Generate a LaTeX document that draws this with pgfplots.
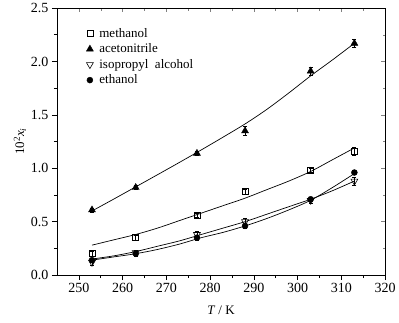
\documentclass[border=0pt]{standalone}
\usepackage{pgfplots}
\pgfplotsset{compat=1.18}
\usepackage{fontspec}
\setmainfont{Liberation Serif}
\begin{document}
\begin{tikzpicture}
\pgfplotsset{
  base/.style={
    width=328pt, height=267pt, scale only axis,
    xmin=245, xmax=320, ymin=0, ymax=2.5,
    xtick={250,260,...,320}, ytick={0,0.5,...,2.5},
    minor x tick num=1, minor y tick num=1,
    axis line style={line width=0.6pt},
  }
}
\begin{axis}[base, name=ax,
  xtick pos=bottom, ytick pos=left, tick align=outside,
  major tick length=5pt, minor tick length=3pt,
  tick style={line width=0.6pt, black},
  /pgf/number format/assume math mode=true,
  /pgf/number format/fixed, /pgf/number format/fixed zerofill,
  yticklabel style={/pgf/number format/precision=1},
  xticklabel style={/pgf/number format/precision=0},
  ticklabel style={font=\fontsize{14}{16}\selectfont},
  xlabel={\textit{T} / K}, ylabel={10\textsuperscript{2}\textit{x}\textsubscript{\textit{i}}},
  label style={font=\fontsize{13}{15}\selectfont},
  xlabel style={yshift=-6pt},
  ylabel style={yshift=-2pt},
  legend style={draw=none, fill=none, at={(0.08,0.94)}, anchor=north west,
    font=\fontsize{13}{15}\selectfont, row sep=1pt,
    /tikz/every odd column/.append style={column sep=4pt}},
  legend cell align=left,
  error bars/error bar style={line width=0.5pt},
  error bars/error mark options={rotate=90, mark size=2pt},
]
% data points
\addplot[only marks, mark=square, mark size=3pt, mark options={line width=0.6pt},
  error bars/.cd, y dir=both, y explicit] table[y error=e] {
x y e
253 0.20 0.02
263 0.35 0.02
277 0.56 0.02
288 0.78 0.02
303 0.98 0.02
313 1.16 0.04
};
\addlegendentry{methanol}
\addplot[only marks, mark=triangle*, mark size=4pt, fill=black,
  error bars/.cd, y dir=both, y explicit] table[y error=e] {
x y e
253 0.61 0.02
263 0.82 0.02
277 1.14 0.02
288 1.35 0.04
303 1.91 0.04
313 2.17 0.04
};
\addlegendentry{acetonitrile}
\addplot[only marks, mark=triangle, mark size=4pt, mark options={rotate=180, line width=0.6pt},
  error bars/.cd, y dir=both, y explicit] table[y error=e] {
x y e
253 0.12 0.03
263 0.21 0.02
277 0.38 0.03
288 0.50 0.03
303 0.70 0.03
313 0.88 0.04
};
\addlegendentry{isopropyl\ \ alcohol}
\addplot[only marks, mark=*, mark size=3pt, fill=black,
  error bars/.cd, y dir=both, y explicit] table[y error=e] {
x y e
253 0.14 0.02
263 0.20 0.02
277 0.35 0.02
288 0.46 0.02
303 0.71 0.02
313 0.96 0.02
};
\addlegendentry{ethanol}
% fitted curves
\addplot[black, line width=0.7pt, smooth, forget plot] coordinates {
(253,0.28) (258,0.33) (263,0.38) (268,0.44) (273,0.51) (278,0.58) (283,0.65)
(288,0.72) (293,0.80) (298,0.88) (303,0.97) (308,1.08) (313,1.19)};
\addplot[black, line width=0.7pt, smooth, forget plot] coordinates {
(253,0.600) (258,0.712) (263,0.826) (268,0.940) (273,1.055) (278,1.172) (283,1.292)
(288,1.415) (293,1.552) (298,1.705) (303,1.865) (308,2.015) (313,2.170)};
\addplot[black, line width=0.7pt, smooth, forget plot] coordinates {
(253,0.15) (258,0.18) (263,0.22) (268,0.27) (273,0.32) (278,0.38) (283,0.44)
(288,0.50) (293,0.57) (298,0.64) (303,0.71) (308,0.79) (313,0.88)};
\addplot[black, line width=0.7pt, smooth, forget plot] coordinates {
(253,0.14) (258,0.17) (263,0.20) (268,0.24) (273,0.29) (278,0.35) (283,0.40)
(288,0.46) (293,0.53) (298,0.61) (303,0.70) (308,0.82) (313,0.95)};
\end{axis}
\begin{axis}[base, xtick pos=top, ytick pos=right, tick align=inside,
  xticklabels={}, yticklabels={}, major tick length=4pt, minor tick length=2.5pt,
  tick style={line width=0.4pt, black!50}]
\end{axis}
\path ([xshift=-57pt,yshift=-47pt]ax.south west) rectangle ([xshift=14pt,yshift=8pt]ax.north east);
\end{tikzpicture}
\end{document}
